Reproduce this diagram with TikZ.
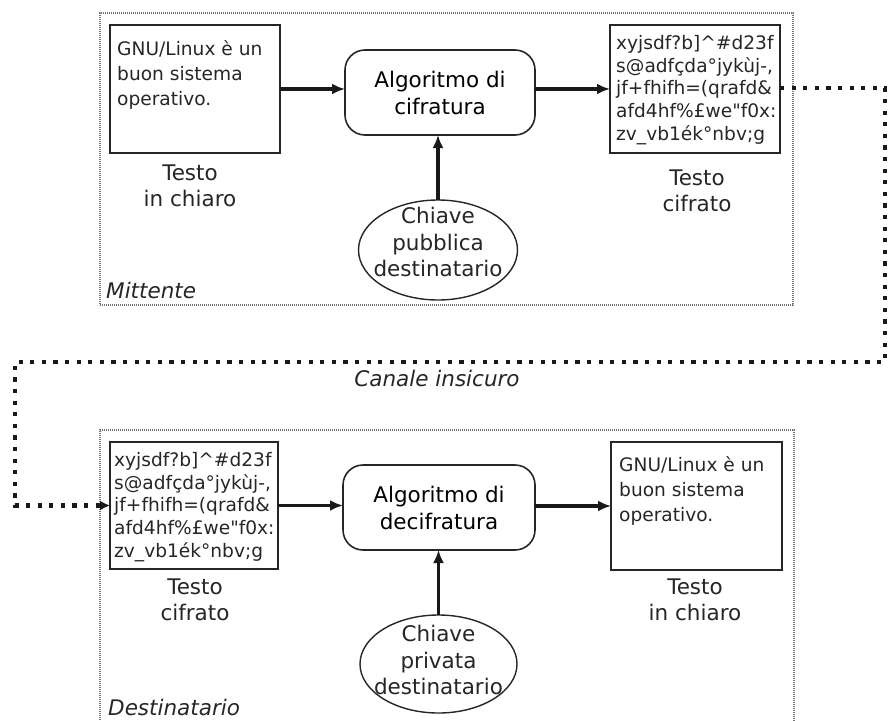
\documentclass[tikz,border=0pt]{standalone}
\usepackage{fontspec}
\setmainfont{DejaVu Sans}[Ligatures=TeXOff]
\usetikzlibrary{arrows.meta,shapes.geometric}
\begin{document}
\begin{tikzpicture}[x=1pt,y=-1pt,
  frame/.style={draw=black!55, line width=1.1pt, dash pattern=on 1.2pt off 0.8pt},
  textbox/.style={draw=black!85, line width=1.8pt, rectangle, outer sep=0pt, inner sep=0pt},
  algbox/.style={draw=black!85, line width=1.6pt, rectangle, rounded corners=20pt, outer sep=0pt, inner sep=0pt, align=center, font=\fontsize{21.5}{27}\selectfont},
  keyshape/.style={draw=black!85, line width=1.4pt, ellipse, outer sep=0pt, inner sep=0pt},
  boxtxt/.style={inner sep=0pt, align=left, anchor=north west, text=black!85, font=\fontsize{18.6}{25}\selectfont},
  ciphertxt/.style={boxtxt, font=\fontsize{18.6}{22.7}\selectfont},
  lbl/.style={inner sep=0pt, align=center, text=black!85, font=\fontsize{21.5}{26.5}\selectfont},
  itl/.style={inner sep=0pt, text=black!85, font=\fontsize{21.5}{26}\selectfont\itshape},
  flow/.style={draw=black!90, line width=3.2pt, -{Latex[length=13pt,width=11pt]}},
  channel/.style={draw=black!90, line width=4.2pt, dash pattern=on 4.2pt off 7.4pt, line cap=butt, -{Latex[length=10pt,width=10pt]}}
]
\useasboundingbox (0,0) rectangle (888,720);

% containers
\node[frame, minimum width=693pt, minimum height=292pt, inner sep=0pt, outer sep=0pt] (mitt) at (446.5,159) {};
\draw[frame] (100,724) |- (794,430) -- (794,724);

% top row
\node[textbox, minimum width=170pt, minimum height=128pt] (b1) at (195,89) {};
\node[boxtxt] (b1t) at (117,40.5) {GNU/Linux è un\\buon sistema\\operativo.};
\node[algbox, minimum width=190pt, minimum height=85pt] (alg1) at (440,92.5) {Algoritmo di\\cifratura};
\node[textbox, minimum width=170pt, minimum height=128pt] (b2) at (695,89) {};
\node[ciphertxt] (b2t) at (616,35) {xyjsdf?b]\^{}\#d23f\\s@adfçda°jykùj-,\\jf+fhifh=(qrafd\&\\afd4hf\%£we"f0x:\\zv\_vb1ék°nbv;g};
\node[keyshape, minimum width=159pt, minimum height=100pt] (k1) at (438,250) {};
\node[lbl] (k1t) at (438,242) {Chiave\\pubblica\\destinatario};
\node[lbl] (l1) at (190,186) {Testo\\in chiaro};
\node[lbl] (l2) at (697,191) {Testo\\cifrato};
\node[itl, anchor=west] (mittl) at (106,290) {Mittente};

\draw[flow] (b1.east) -- (b1.east -| alg1.west);
\draw[flow] (alg1.east |- b2.west) -- (b2.west);
\draw[flow] (k1.north) -- (k1.north |- alg1.south);

% bottom row
\node[textbox, minimum width=168pt, minimum height=127pt] (b3) at (194,505.5) {};
\node[ciphertxt] (b3t) at (114,452) {xyjsdf?b]\^{}\#d23f\\s@adfçda°jykùj-,\\jf+fhifh=(qrafd\&\\afd4hf\%£we"f0x:\\zv\_vb1ék°nbv;g};
\node[algbox, minimum width=192pt, minimum height=85pt] (alg2) at (439,507.5) {Algoritmo di\\decifratura};
\node[textbox, minimum width=171pt, minimum height=128pt] (b4) at (696.5,506) {};
\node[boxtxt] (b4t) at (619,456) {GNU/Linux è un\\buon sistema\\operativo.};
\node[keyshape, minimum width=157pt, minimum height=98pt] (k2) at (438.5,664) {};
\node[lbl] (k2t) at (438.5,660) {Chiave\\privata\\destinatario};
\node[lbl] (l3) at (195,600) {Testo\\cifrato};
\node[lbl] (l4) at (695,600) {Testo\\in chiaro};
\node[itl, anchor=west] (destl) at (108,707) {Destinatario};

\draw[flow] (b3.east) -- (b3.east -| alg2.west);
\draw[flow] (alg2.east |- b4.west) -- (b4.west);
\draw[flow] (k2.north) -- (k2.north |- alg2.south);

% insecure channel
\coordinate (c1) at (885,88);
\coordinate (c2) at (885,362);
\coordinate (c3) at (15,362);
\coordinate (c4) at (15,505.5);
\node[itl] (canale) at (437,378) {Canale insicuro};
\draw[channel] (b2.east |- c1) -- (c1) -- (c2) -- (c3) -- (c4) -- (b3.west);
\end{tikzpicture}
\end{document}
